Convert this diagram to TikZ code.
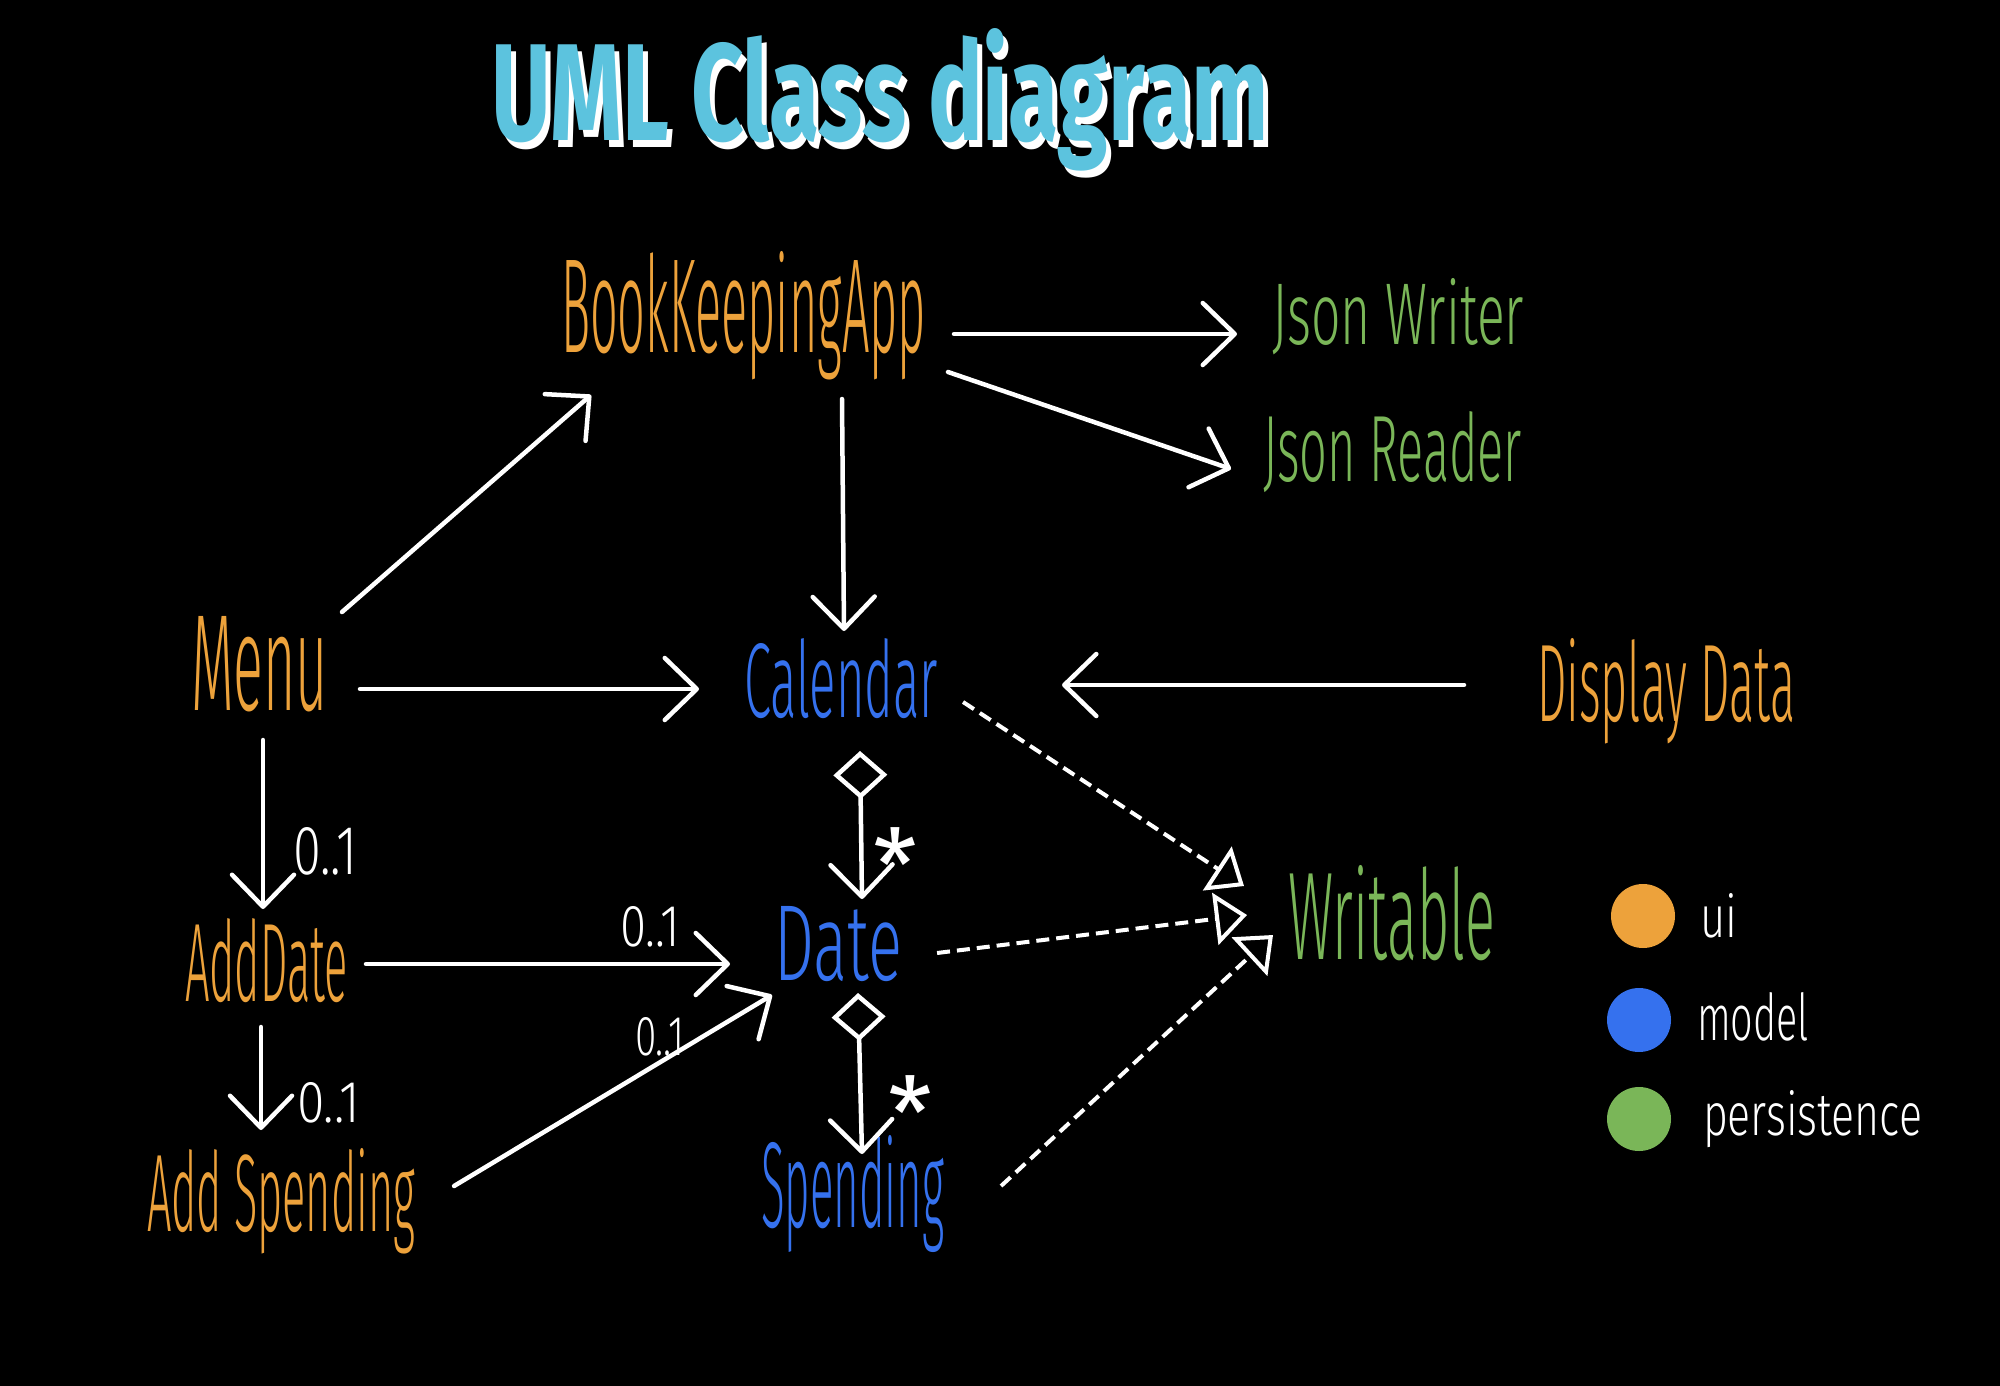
\documentclass[tikz,border=0pt]{standalone}
\usepackage{fontspec}
\setmainfont{Fira Sans}
\newfontfamily\hand{Fira Sans Light}
\usetikzlibrary{arrows.meta,calc}

\definecolor{uiorange}{HTML}{EDA23B}
\definecolor{modelblue}{HTML}{3571EE}
\definecolor{persgreen}{HTML}{7AB658}
\definecolor{titleblue}{HTML}{5CC3DE}

% text stretched into a box of given width and height (pt)
\newcommand\handtext[3]{\resizebox{#1pt}{#2pt}{\hand #3}}
% title lettering with a white drop shadow behind it
\newcommand\titletext[1]{%
  \makebox[0pt][l]{\hspace*{5pt}\raisebox{-6pt}{\color{white}\resizebox{778pt}{112pt}{\bfseries #1}}}%
  \resizebox{778pt}{112pt}{\bfseries #1}}
% asterisk with a box that fits the glyph
\newcommand\multstar{\raisebox{-0.38em}[0.34em][0pt]{*}}

\begin{document}
\begin{tikzpicture}[x=1pt,y=-1pt,
  lbl/.style={anchor=base west, inner sep=0pt, outer sep=0pt},
  mult/.style={lbl, text=white},
  star/.style={inner sep=0pt, text=white, font=\fontsize{100}{100}\selectfont},
  key/.style={circle, inner sep=0pt, minimum size=64pt},
  assoc/.style={draw=white, line width=4.5pt, line cap=round,
    -{Straight Barb[length=32pt,width=62pt,round]}},
  agg/.style={draw=white, line width=4.5pt, line cap=round,
    {Diamond[open,length=48pt,width=54pt]}-{Straight Barb[length=32pt,width=62pt,round]}},
  realize/.style={draw=white, line width=4pt, dash pattern=on 13pt off 7pt,
    -{Triangle[open,length=32pt,width=52pt]}},
]
% canvas
\fill[black] (0,0) rectangle (2000,1386);

% title
\node[lbl, text=titleblue] (title) at (491,141) {\titletext{UML Class diagram}};

% classes
\node[lbl,text=uiorange]   (bka)  at (561,352)  {\handtext{365}{101}{BookKeepingApp}};
\node[lbl,text=persgreen]  (jw)   at (1272,344) {\handtext{252}{66}{Json Writer}};
\node[lbl,text=persgreen]  (jr)   at (1263,481) {\handtext{259}{70}{Json Reader}};
\node[lbl,text=uiorange]   (menu) at (191,710)  {\handtext{137}{94}{Menu}};
\node[lbl,text=modelblue]  (cal)  at (744,717)  {\handtext{194}{79}{Calendar}};
\node[lbl,text=uiorange]   (dd)   at (1537,721) {\handtext{258}{83}{Display Data}};
\node[lbl,text=persgreen]  (wr)   at (1288,959) {\handtext{207}{94}{Writable}};
\node[lbl,text=uiorange]   (ad)   at (185,1001) {\handtext{163}{83}{AddDate}};
\node[lbl,text=modelblue]  (date) at (774,980)  {\handtext{128}{74}{Date}};
\node[lbl,text=uiorange]   (as)   at (147,1231) {\handtext{268}{83}{Add Spending}};
\node[lbl,text=modelblue]  (sp)   at (761,1227) {\handtext{183}{92}{Spending}};

% associations
\draw[assoc] ($(bka.base east)+(28,-18)$) -- ($(jw.base west)+(-35,-10)$);
\draw[assoc] ($(bka.base east)+(22,20)$) -- ($(jr.base west)+(-32,-12)$);
\draw[assoc] ($(bka.base west)+(281,47)$) -- ($(cal.base west)+(100,-86)$);
\draw[assoc] ($(menu.base east)+(14,-98)$) -- ($(bka.base west)+(30,43)$);
\draw[assoc] ($(menu.base east)+(32,-21)$) -- ($(cal.base west)+(-45,-28)$);
\draw[assoc] ($(dd.base west)+(-73,-36)$) -- ($(cal.base east)+(124,-32)$);
\draw[assoc] ($(menu.base west)+(72,30)$) -- ($(ad.base west)+(78,-92)$);
\draw[assoc] ($(ad.base west)+(76,26)$) -- ($(as.base west)+(114,-101)$);
\draw[assoc] ($(ad.base east)+(18,-37)$) -- ($(date.base west)+(-44,-16)$);
\draw[assoc] ($(as.base east)+(39,-45)$) -- ($(date.base west)+(-2,15)$);

% multiplicities
\node[mult] (m1) at (293,874)  {\handtext{64}{47}{0..1}};
\node[mult] (m2) at (297,1122) {\handtext{63}{40}{0..1}};
\node[mult] (m3) at (620,946)  {\handtext{60}{40}{0..1}};
\node[mult] (m4) at (635,1055) {\handtext{49}{38}{0..1}};

% aggregations
\draw[agg] ($(cal.base west)+(116,34)$) -- ($(date.base west)+(88,-81)$);
\draw[agg] ($(date.base west)+(84,13)$) -- ($(sp.base west)+(101,-73)$);
\node[star] (s1) at (895,846)  {\multstar};
\node[star] (s2) at (910,1094) {\multstar};

% realizations
\draw[realize] ($(cal.base east)+(25,-15)$) -- ($(wr.base west)+(-44,-73)$);
\draw[realize] ($(date.base east)+(35,-27)$) -- ($(wr.base west)+(-41,-44)$);
\draw[realize] ($(sp.base east)+(57,-41)$) -- ($(wr.base west)+(-15,-24)$);

% legend
\node[key, fill=uiorange]  (kui)    at (1643,916)  {};
\node[key, fill=modelblue] (kmodel) at (1639,1020) {};
\node[key, fill=persgreen] (kpers)  at (1639,1119) {};
\node[lbl, text=white] (tui)    at (1700,937)  {\handtext{37}{44}{ui}};
\node[lbl, text=white] (tmodel) at (1697,1040) {\handtext{112}{48}{model}};
\node[lbl, text=white] (tpers)  at (1703,1135) {\handtext{219}{45}{persistence}};
\end{tikzpicture}
\end{document}
